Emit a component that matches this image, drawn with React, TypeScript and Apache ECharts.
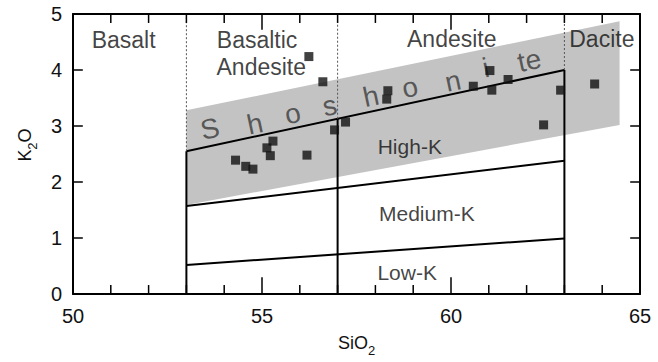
import React, { useEffect, useRef } from "react";
import * as echarts from "echarts";

// Axis tick values
const xTickValues = [50, 55, 60, 65];
const xMinorTickValues = [51, 52, 53, 54, 56, 57, 58, 59, 61, 62, 63, 64];
const yTickValues = [0, 1, 2, 3, 4, 5];

// Samples: SiO2 (wt%) and K2O (wt%)
const sampleSiO2 = [54.3, 54.57, 54.76, 55.13, 55.22, 55.29, 56.19, 56.24, 56.61, 56.92, 57.21, 58.33, 58.3, 60.59, 61.03, 61.08, 61.51, 62.45, 62.9, 63.8];
const sampleK2O = [2.39, 2.28, 2.23, 2.61, 2.47, 2.73, 2.48, 4.24, 3.79, 2.93, 3.07, 3.63, 3.48, 3.71, 3.99, 3.64, 3.83, 3.02, 3.64, 3.75];

// Field boundaries
const lowMediumBoundary = [[53, 0.52], [63, 0.99]];
const mediumHighBoundary = [[53, 1.57], [63, 2.38]];
const highShoshoniteBoundary = [[53, 2.55], [63, 4.0]];
const solidVerticals = [
  [[53, 0], [53, 2.55]],
  [[57, 0], [57, 3.13]],
  [[63, 0], [63, 4.0]],
];
const dottedVerticals = [
  [[53, 2.55], [53, 5]],
  [[57, 3.13], [57, 5]],
  [[63, 4.0], [63, 5]],
];
const shoshoniteField = [[53, 1.59], [53, 3.28], [64.46, 4.87], [64.46, 3.02]];

// Rock-name labels
const rockNames = ["Basalt", "Basaltic", "Andesite", "Andesite", "Dacite"];
const rockNameX = [51.34, 54.87, 54.98, 60.02, 63.99];
const rockNameY = [4.54, 4.54, 4.06, 4.55, 4.55];

// Potassium series labels
const kSeriesNames = ["High-K", "Medium-K", "Low-K"];
const kSeriesX = [58.91, 59.36, 58.84];
const kSeriesY = [2.63, 1.43, 0.38];

// Spaced "Shoshonite" letters
const shoLetters = ["S", "h", "o", "s", "h", "o", "n", "i", "te"];
const shoX = [53.62, 54.81, 55.81, 56.79, 57.88, 58.91, 60.05, 60.92, 62.07];
const shoY = [2.95, 3.04, 3.22, 3.36, 3.53, 3.69, 3.8, 4.04, 4.17];

const TEXT = "#111";
const NUM_FONT = "Liberation Sans, Arial, sans-serif";

function lineSeries(data: number[][], dotted = false, width = 2) {
  return {
    type: "line",
    data,
    symbol: "none",
    silent: true,
    clip: false,
    z: 3,
    lineStyle: dotted
      ? { color: "#555", width: 1, type: [2, 2] }
      : { color: "#000", width },
  };
}

const textLabels = (names: string[], xs: number[], ys: number[], label: any) => ({
  type: "scatter",
  silent: true,
  z: 4,
  symbolSize: 1,
  itemStyle: { color: "rgba(0,0,0,0)" },
  data: names.map((n, i) => ({ value: [xs[i], ys[i]], name: n })),
  label: { show: true, position: "inside", formatter: (p: any) => p.name, ...label },
});

export default function App() {
  const ref = useRef<HTMLDivElement>(null);

  useEffect(() => {
    if (!ref.current) return;
    const chart = echarts.init(ref.current, undefined, { renderer: "svg" });

    const xMin = xTickValues[0];
    const xMax = xTickValues[xTickValues.length - 1];
    const yMin = yTickValues[0];
    const yMax = yTickValues[yTickValues.length - 1];

    // tick lengths expressed in axis units (plot is ~37.8 px per SiO2 unit, ~56.7 px per K2O unit)
    const majorX = 0.3;
    const minorX = 0.16;
    const yTick = 0.26;

    const tickSeries: any[] = [];
    xTickValues.forEach((v) => {
      tickSeries.push(lineSeries([[v, yMin], [v, yMin + majorX]], false, 1.5));
      tickSeries.push(lineSeries([[v, yMax], [v, yMax - majorX + 0.02]], false, 1.5));
    });
    xMinorTickValues.forEach((v) => {
      tickSeries.push(lineSeries([[v, yMin], [v, yMin + minorX]], false, 1.5));
      tickSeries.push(lineSeries([[v, yMax], [v, yMax - minorX]], false, 1.5));
    });
    yTickValues.forEach((v) => {
      tickSeries.push(lineSeries([[xMin, v], [xMin + yTick, v]], false, 1.5));
      tickSeries.push(lineSeries([[xMax, v], [xMax - yTick, v]], false, 1.5));
    });

    const axisLine = { show: true, onZero: false, lineStyle: { color: "#000", width: 2 } };
    const tickLabelStyle = { fontSize: 20, fontFamily: NUM_FONT, color: TEXT };
    const richName = {
      n: { fontSize: 18, fontFamily: NUM_FONT, color: TEXT, padding: [0, 0, 5, 0], verticalAlign: "bottom" },
      s: { fontSize: 13, fontFamily: NUM_FONT, color: TEXT, verticalAlign: "bottom" },
    };

    const option: any = {
      animation: false,
      grid: { left: 73, right: 18, top: 14, bottom: 65, containLabel: false, show: false },
      xAxis: [
        {
          type: "value",
          position: "bottom",
          min: xMin,
          max: xMax,
          interval: 5,
          splitLine: { show: false },
          axisLine,
          axisTick: { show: false },
          axisLabel: { show: true, margin: 12, showMinLabel: true, showMaxLabel: true, ...tickLabelStyle },
          name: "{n|SiO}{s|2}",
          nameLocation: "middle",
          nameGap: 40,
          nameTextStyle: { color: TEXT, fontFamily: NUM_FONT, rich: richName },
        },
        {
          type: "value",
          position: "top",
          min: xMin,
          max: xMax,
          interval: 5,
          splitLine: { show: false },
          axisLine,
          axisTick: { show: false },
          axisLabel: { show: false },
        },
      ],
      yAxis: [
        {
          type: "value",
          position: "left",
          min: yMin,
          max: yMax,
          interval: 1,
          splitLine: { show: false },
          axisLine,
          axisTick: { show: false },
          axisLabel: { show: true, margin: 11, ...tickLabelStyle },
          name: "{n|K}{s|2}{n|O}",
          nameLocation: "middle",
          nameGap: 34,
          nameRotate: 90,
          nameTextStyle: { color: TEXT, fontFamily: NUM_FONT, padding: [0, 0, 0, 18], rich: richName },
        },
        {
          type: "value",
          position: "right",
          min: yMin,
          max: yMax,
          interval: 1,
          splitLine: { show: false },
          axisLine,
          axisTick: { show: false },
          axisLabel: { show: false },
        },
      ],
      series: [
        {
          type: "custom",
          silent: true,
          z: 1,
          data: [shoshoniteField[0]],
          renderItem: (_params: any, api: any) => {
            const points = shoshoniteField.map((p) => api.coord(p));
            return { type: "polygon", shape: { points }, style: { fill: "#c3c3c3" } };
          },
        },
        lineSeries(lowMediumBoundary),
        lineSeries(mediumHighBoundary),
        lineSeries(highShoshoniteBoundary),
        ...solidVerticals.map((d) => lineSeries(d)),
        ...dottedVerticals.map((d) => lineSeries(d, true)),
        ...tickSeries,
        textLabels(rockNames, rockNameX, rockNameY, { fontSize: 23, fontFamily: NUM_FONT, color: TEXT }),
        textLabels(kSeriesNames, kSeriesX, kSeriesY, { fontSize: 21, fontFamily: NUM_FONT, color: TEXT }),
        textLabels(shoLetters, shoX, shoY, { fontSize: 28, fontFamily: NUM_FONT, color: "#3a3a3a", rotate: 12 }),
        {
          type: "scatter",
          z: 5,
          symbol: "rect",
          symbolSize: 9,
          itemStyle: { color: "#111" },
          data: sampleSiO2.map((x, i) => [x, sampleK2O[i]]),
        },
      ],
    };

    chart.setOption(option);
    return () => chart.dispose();
  }, []);

  return (
    <div
      ref={ref}
      style={{ position: "absolute", left: 0, top: 0, width: 658, height: 362, background: "#fff" }}
    />
  );
}
